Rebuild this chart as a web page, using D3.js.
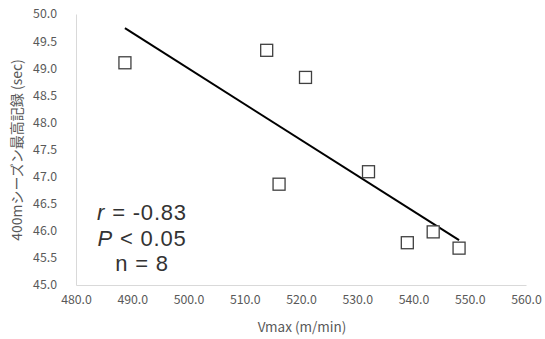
<!DOCTYPE html>
<html><head><meta charset="utf-8">
<script src="https://cdn.jsdelivr.net/npm/d3@7"></script>
<style>body{margin:0;background:#fff;} text{font-family:"Noto Sans CJK JP","Noto Sans",sans-serif;}</style>
</head><body>
<svg id="c" width="545" height="339"></svg>
<script>
const vmax = [488.7, 513.9, 520.8, 516.1, 532.0, 543.5, 538.9, 548.1];
const record = [49.10, 49.33, 48.83, 46.86, 47.09, 45.98, 45.78, 45.68];
const xTicks = [480, 490, 500, 510, 520, 530, 540, 550, 560];
const yTicks = [45.0, 45.5, 46.0, 46.5, 47.0, 47.5, 48.0, 48.5, 49.0, 49.5, 50.0];
const statsLines = [["r", " = -0.83"], ["P", " < 0.05"], ["", "n = 8"]];

const svg = d3.select("#c");
const x = d3.scaleLinear().domain([480, 560]).range([76, 526]);
const y = d3.scaleLinear().domain([45, 50]).range([285, 14]);

const xAxis = svg.append("g").attr("transform", "translate(0,285)")
  .call(d3.axisBottom(x).tickValues(xTicks).tickFormat(d3.format(".1f")).tickSize(0).tickPadding(10));
const yAxis = svg.append("g").attr("transform", "translate(76,0)")
  .call(d3.axisLeft(y).tickValues(yTicks).tickFormat(d3.format(".1f")).tickSize(0).tickPadding(19));
[xAxis, yAxis].forEach(g => {
  g.select(".domain").attr("stroke", "#d9d9d9").attr("stroke-width", 1);
  g.selectAll("text").attr("fill", "#595959").style("font-size", "12.3px");
});

svg.append("text").attr("x", 302).attr("y", 332).attr("text-anchor", "middle")
  .attr("fill", "#595959").style("font-size", "13.5px").text("Vmax (m/min)");
svg.append("text").attr("transform", "translate(22,150) rotate(-90)").attr("text-anchor", "middle")
  .attr("fill", "#595959").style("font-size", "14px").text("400mシーズン最高記録 (sec)");

// linear trendline from data
const mx = d3.mean(vmax), my = d3.mean(record);
const sxy = d3.sum(vmax, (v, i) => (v - mx) * (record[i] - my));
const sxx = d3.sum(vmax, v => (v - mx) * (v - mx));
const slope = sxy / sxx, inter = my - slope * mx;
const [x0, x1] = d3.extent(vmax);
svg.append("line")
  .attr("x1", x(x0)).attr("y1", y(inter + slope * x0))
  .attr("x2", x(x1)).attr("y2", y(inter + slope * x1))
  .attr("stroke", "#000").attr("stroke-width", 2);

const s = 12;
svg.selectAll("rect.pt").data(vmax).enter().append("rect").attr("class", "pt")
  .attr("x", (d) => x(d) - s / 2).attr("y", (d, i) => y(record[i]) - s / 2)
  .attr("width", s).attr("height", s)
  .attr("fill", "#fff").attr("stroke", "#404040").attr("stroke-width", 1.3);

const st = svg.append("g");
statsLines.forEach((l, i) => {
  const t = st.append("text").attr("x", 142).attr("y", 220 + i * 25.5).attr("text-anchor", "middle")
    .attr("fill", "#333").style("font-size", "22px")
    .style("font-family", "'Liberation Sans', Arial, sans-serif").style("letter-spacing", "0.8px");
  if (l[0]) t.append("tspan").style("font-style", "italic").text(l[0]);
  t.append("tspan").text(l[1]);
});
</script>
</body></html>
